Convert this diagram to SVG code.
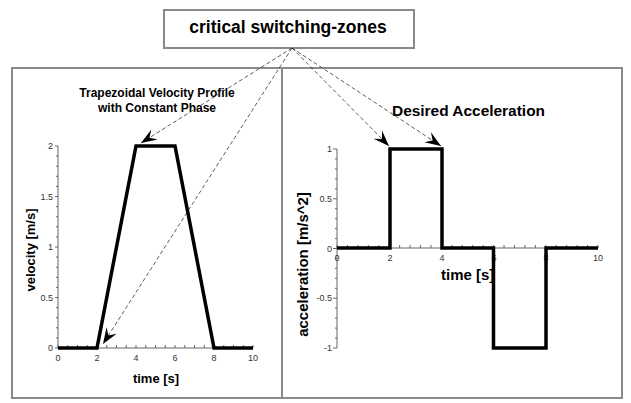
<svg xmlns="http://www.w3.org/2000/svg" width="631" height="403" viewBox="0 0 631 403">
<style>
.frame{fill:#fff;stroke:#8a8a8a;stroke-width:2}
.title{font-family:"Liberation Sans",Arial,sans-serif;font-weight:bold;fill:#000}
.tick{font-family:"Liberation Sans",Arial,sans-serif;font-size:9px;fill:#333}
.axis{fill:none;stroke:#666;stroke-width:1}
.curve{fill:none;stroke:#000;stroke-width:3.5;stroke-linejoin:miter}
.conn{fill:none;stroke:#333;stroke-width:0.8;stroke-dasharray:4 2.5}
</style>
<defs>
<marker id="arr" viewBox="-16 -7 17 14" refX="0" refY="0" markerWidth="17" markerHeight="14" markerUnits="userSpaceOnUse" orient="auto">
<path d="M0,0 L-16,-6 L-10,0 L-16,6 Z" fill="#000"/>
</marker>
</defs>
<rect width="631" height="403" fill="#fff"/>
<g id="frame">
<rect class="frame" x="12" y="68" width="610" height="330"/>
<line x1="282" y1="68" x2="282" y2="398" stroke="#8a8a8a" stroke-width="2"/>
</g>
<g id="zones-box">
<rect class="frame" x="164" y="10" width="250" height="38"/>
<text class="title" x="288" y="33" font-size="17.5" text-anchor="middle">critical switching-zones</text>
</g>
<g id="velocity-plot">
<text class="title" x="157" y="97" font-size="12" text-anchor="middle">Trapezoidal Velocity Profile</text>
<text class="title" x="157" y="112" font-size="12" text-anchor="middle">with Constant Phase</text>
<path class="axis" d="M58,146V348H253"/>
<path class="axis" d="M58,146h-3m3,10.1h-2m2,10.1h-2m2,10.1h-2m2,10.1h-2m2,10.1h-3m3,10.1h-2m2,10.1h-2m2,10.1h-2m2,10.1h-2m2,10.1h-3m3,10.1h-2m2,10.1h-2m2,10.1h-2m2,10.1h-2m2,10.1h-3m3,10.1h-2m2,10.1h-2m2,10.1h-2m2,10.1h-2m2,10.1h-3"/>
<path class="axis" d="M58,345v3m9.75,-3v3m9.75,-3v3m9.75,-3v3m9.75,-3v3m9.75,-3v3m9.75,-3v3m9.75,-3v3m9.75,-3v3m9.75,-3v3m9.75,-3v3m9.75,-3v3m9.75,-3v3m9.75,-3v3m9.75,-3v3m9.75,-3v3m9.75,-3v3m9.75,-3v3m9.75,-3v3m9.75,-3v3m9.75,-3v3"/>
<text class="tick" x="53" y="149" text-anchor="end">2</text>
<text class="tick" x="53" y="199.5" text-anchor="end">1.5</text>
<text class="tick" x="53" y="250" text-anchor="end">1</text>
<text class="tick" x="53" y="300.5" text-anchor="end">0.5</text>
<text class="tick" x="53" y="351" text-anchor="end">0</text>
<text class="tick" x="58" y="361" text-anchor="middle">0</text>
<text class="tick" x="97" y="361" text-anchor="middle">2</text>
<text class="tick" x="136" y="361" text-anchor="middle">4</text>
<text class="tick" x="175" y="361" text-anchor="middle">6</text>
<text class="tick" x="214" y="361" text-anchor="middle">8</text>
<text class="tick" x="253" y="361" text-anchor="middle">10</text>
<text class="title" x="156" y="383" font-size="13" text-anchor="middle">time [s]</text>
<text class="title" font-size="13" text-anchor="middle" transform="translate(35,250) rotate(-90)">velocity [m/s]</text>
<polyline class="curve" stroke-width="3" points="58,348 97,348 136,146 175,146 214,348 253,348"/>
</g>
<g id="acceleration-plot">
<text class="title" x="392" y="116" font-size="14" textLength="153" lengthAdjust="spacingAndGlyphs">Desired Acceleration</text>
<path class="axis" d="M337,149V348M337,248H598"/>
<path class="axis" d="M337,149h-4m4,9.95h-2m2,9.95h-2m2,9.95h-2m2,9.95h-2m2,9.95h-4m4,9.95h-2m2,9.95h-2m2,9.95h-2m2,9.95h-2m2,9.95h-4m4,9.95h-2m2,9.95h-2m2,9.95h-2m2,9.95h-2m2,9.95h-4m4,9.95h-2m2,9.95h-2m2,9.95h-2m2,9.95h-2m2,9.95h-4"/>
<path class="axis" d="M337,245v3m10.44,-3v3m10.44,-3v3m10.44,-3v3m10.44,-3v3m10.44,-3v3m10.44,-3v3m10.44,-3v3m10.44,-3v3m10.44,-3v3m10.44,-3v3m10.44,-3v3m10.44,-3v3m10.44,-3v3m10.44,-3v3m10.44,-3v3m10.44,-3v3m10.44,-3v3m10.44,-3v3m10.44,-3v3m10.44,-3v3m10.44,-3v3m10.44,-3v3m10.44,-3v3m10.44,-3v3m10.44,-3v3"/>
<text class="tick" x="332" y="152" text-anchor="end">1</text>
<text class="tick" x="332" y="202" text-anchor="end">0.5</text>
<text class="tick" x="332" y="251.5" text-anchor="end">0</text>
<text class="tick" x="332" y="301" text-anchor="end">-0.5</text>
<text class="tick" x="332" y="351" text-anchor="end">-1</text>
<text class="tick" x="337" y="261" text-anchor="middle">0</text>
<text class="tick" x="390" y="261" text-anchor="middle">2</text>
<text class="tick" x="442" y="261" text-anchor="middle">4</text>
<text class="tick" x="494" y="261" text-anchor="middle">6</text>
<text class="tick" x="546" y="261" text-anchor="middle">8</text>
<text class="tick" x="598" y="261" text-anchor="middle">10</text>
<text class="title" x="441" y="280" font-size="15">time [s]</text>
<text class="title" font-size="15" text-anchor="middle" transform="translate(308,264.5) rotate(-90)">acceleration [m/s^2]</text>
<polyline class="curve" points="337,248 390,248 390,149 442,149 442,248 493.5,248 493.5,348 546,348 546,248 598,248"/>
</g>
<g id="connectors">
<line class="conn" x1="292" y1="48" x2="141" y2="143" marker-end="url(#arr)"/>
<line class="conn" x1="292" y1="48" x2="103" y2="344" marker-end="url(#arr)"/>
<line class="conn" x1="292" y1="48" x2="389" y2="146" marker-end="url(#arr)"/>
<line class="conn" x1="292" y1="48" x2="441" y2="146" marker-end="url(#arr)"/>
</g>
</svg>
